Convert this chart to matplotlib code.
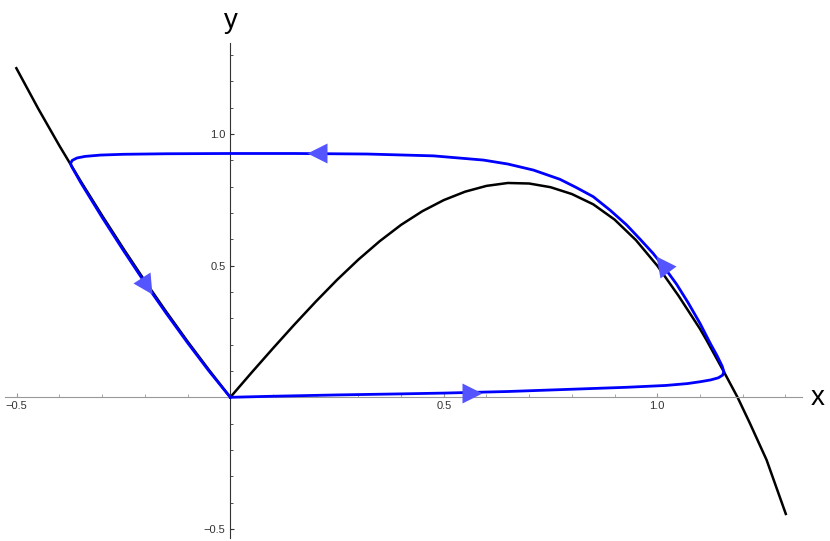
import matplotlib
matplotlib.use("Agg")
import matplotlib.pyplot as plt
import numpy as np
from matplotlib.markers import MarkerStyle
from matplotlib.transforms import Affine2D
from matplotlib.ticker import FixedLocator

plt.rcParams["font.family"] = ["Liberation Sans", "DejaVu Sans"]

# nullcline (black)
null_x = [-0.501, -0.45, -0.40, -0.35, -0.30, -0.25, -0.20, -0.15, -0.10, -0.05, 0.0,
          0.05, 0.10, 0.15, 0.20, 0.25, 0.30, 0.35, 0.40, 0.45, 0.50, 0.55, 0.60,
          0.65, 0.70, 0.75, 0.80, 0.85, 0.90, 0.95, 1.00, 1.05, 1.10, 1.115,
          1.158, 1.188, 1.217, 1.256, 1.301]
null_y = [1.250, 1.097, 0.955, 0.820, 0.690, 0.564, 0.442, 0.325, 0.212, 0.104, 0.0,
          0.094, 0.186, 0.276, 0.363, 0.446, 0.523, 0.593, 0.655, 0.707, 0.749, 0.781, 0.803,
          0.814, 0.812, 0.798, 0.772, 0.733, 0.675, 0.597, 0.500, 0.385, 0.260, 0.218,
          0.091, 0.0, -0.099, -0.238, -0.443]

# limit cycle (blue), traversed from the origin
cyc_x = [0.0, 0.1, 0.25, 0.4, 0.5, 0.65, 0.772, 0.928, 1.02, 1.07, 1.10, 1.125,
         1.143, 1.153, 1.156, 1.152, 1.140, 1.125, 1.100, 1.072, 1.045, 1.018, 0.990,
         0.96, 0.928, 0.89, 0.850, 0.81, 0.772, 0.71, 0.65, 0.593, 0.476, 0.32,
         0.15, 0.0, -0.15, -0.25, -0.304, -0.34, -0.359, -0.370, -0.374,
         -0.372, -0.35, -0.30, -0.25, -0.20, -0.15, -0.10, -0.05, 0.0]
cyc_y = [0.0, 0.004, 0.009, 0.013, 0.016, 0.022, 0.029, 0.038, 0.045, 0.052,
         0.059, 0.066, 0.074, 0.084, 0.097, 0.118, 0.158, 0.202, 0.281, 0.360,
         0.430, 0.490, 0.547, 0.600, 0.655, 0.710, 0.762, 0.797, 0.828, 0.863,
         0.886, 0.901, 0.917, 0.924, 0.926, 0.926, 0.925, 0.923, 0.920, 0.915,
         0.909, 0.900, 0.889, 0.878, 0.815, 0.683, 0.557, 0.435, 0.319, 0.207,
         0.100, 0.0]

# arrowhead positions along the cycle
arrow_x = [0.567, 1.010, 0.203, -0.196]
arrow_y = [0.018, 0.507, 0.926, 0.421]

x_major = [-0.5, 0.5, 1.0]
x_labels = ["\u22120.5", "0.5", "1.0"]
y_major = [-0.5, 0.5, 1.0]
y_labels = ["\u22120.5", "0.5", "1.0"]

fig = plt.figure(figsize=(8.3, 5.41), dpi=100)
ax = fig.add_axes([0, 0, 1, 1])
ax.set_xlim(-0.5393, 1.4045)
ax.set_ylim(-0.5458, 1.509)

ax.plot(null_x, null_y, color="black", lw=1.8, solid_joinstyle="round", zorder=2)
ax.plot(cyc_x, cyc_y, color="#0000ff", lw=2.0, solid_joinstyle="round", zorder=3)

# arrowheads point along the local direction of the cycle
cx = np.array(cyc_x)
cy = np.array(cyc_y)
pts = ax.transData.transform(np.column_stack([cx, cy]))
for ax_, ay_ in zip(arrow_x, arrow_y):
    p = ax.transData.transform((ax_, ay_))
    i = int(np.argmin(np.hypot(pts[:, 0] - p[0], pts[:, 1] - p[1])))
    i0, i1 = max(i - 1, 0), min(i + 1, len(pts) - 1)
    d = pts[i1] - pts[i0]
    ang = np.degrees(np.arctan2(d[1], d[0]))
    m = MarkerStyle(">", transform=Affine2D().rotate_deg(ang))
    ax.plot([ax_], [ay_], marker=m, ms=14, color="#5555ff", mec="none", zorder=4)

# axes through the origin
for s in ["top", "right"]:
    ax.spines[s].set_visible(False)
ax.spines["bottom"].set_position(("data", 0))
ax.spines["left"].set_position(("data", 0))
ax.spines["bottom"].set_bounds(-0.527, 1.339)
ax.spines["left"].set_bounds(-0.534, 1.346)
ax.spines["bottom"].set_color("#999999")
ax.spines["left"].set_color("#333333")
ax.spines["bottom"].set_linewidth(0.8)
ax.spines["left"].set_linewidth(0.8)

ax.set_xticks(x_major)
ax.set_xticklabels(x_labels)
ax.set_yticks(y_major)
ax.set_yticklabels(y_labels)
ax.xaxis.set_minor_locator(FixedLocator(np.round(np.arange(-0.5, 1.31, 0.1), 2)))
ax.yaxis.set_minor_locator(FixedLocator(np.round(np.arange(-0.5, 1.31, 0.1), 2)))
ax.tick_params(axis="x", which="both", direction="in", colors="#999999",
               labelcolor="#333333", labelsize=8, pad=2.5)
ax.tick_params(axis="y", which="both", direction="in", colors="#333333",
               labelcolor="#333333", labelsize=8, pad=3.5)
ax.tick_params(which="major", length=3, width=0.8)
ax.tick_params(which="minor", length=2, width=0.6)

fig.text(0.9855, 0.2643, "x", fontsize=20, ha="center", va="center")
fig.text(0.278, 0.961, "y", fontsize=20, ha="center", va="center")

fig.savefig("out.png", dpi=100)
